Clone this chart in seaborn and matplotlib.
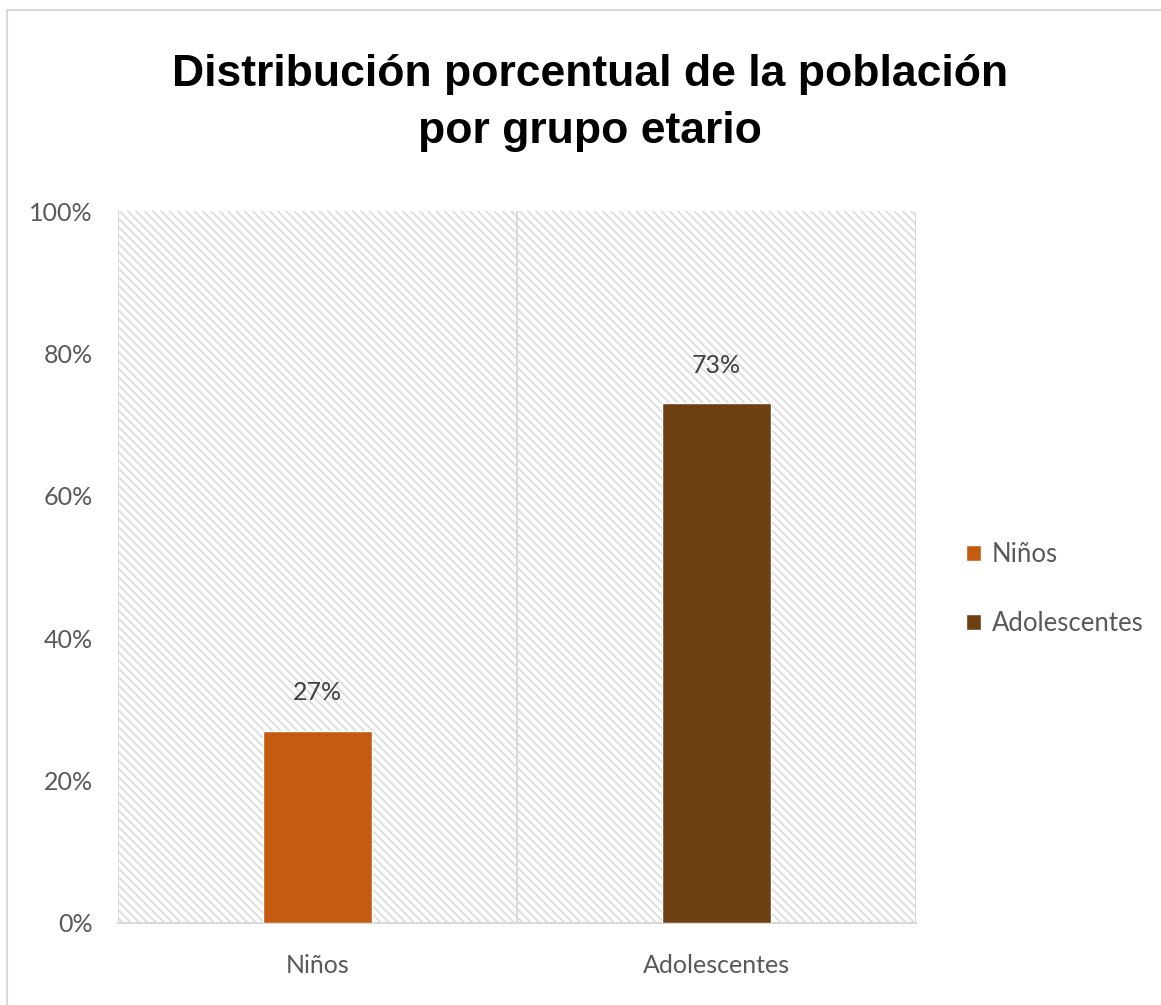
import matplotlib
matplotlib.use("Agg")
import matplotlib.pyplot as plt
from matplotlib.patches import Rectangle
import seaborn as sns
import pandas as pd

# Data
categories = ["Niños", "Adolescentes"]
percentages = [27, 73]
bar_colors = ["#C55A11", "#6E3F12"]
y_ticks = [0, 20, 40, 60, 80, 100]
title_text = "Distribución porcentual de la población\npor grupo etario"

sns.set_theme(style="white")
plt.rcParams["font.family"] = ["Lato", "DejaVu Sans"]
plt.rcParams["hatch.color"] = "#DCDCDC"
plt.rcParams["hatch.linewidth"] = 1.3

df = pd.DataFrame({"grupo": categories, "porcentaje": percentages})

fig = plt.figure(figsize=(11.61, 10.05), dpi=100)
ax = fig.add_axes([0.1016, 0.0816, 0.6874, 0.7084])

# Hatched plot-area background
ax.add_patch(Rectangle((0, 0), 1, 1, transform=ax.transAxes, facecolor="white",
                       edgecolor="#DCDCDC", hatch="\\\\\\\\", linewidth=0, zorder=0))

sns.barplot(data=df, x="grupo", y="porcentaje", hue="grupo",
            palette=bar_colors, width=0.273, legend=True, ax=ax,
            saturation=1, zorder=3)

ax.set_xlim(-0.5, 1.5)
ax.set_ylim(0, 100)
ax.set_yticks(y_ticks)
ax.set_yticklabels([f"{t}%" for t in y_ticks])
ax.set_xlabel("")
ax.set_ylabel("")
ax.tick_params(axis="both", length=0, labelsize=18, labelcolor="#595959")
ax.tick_params(axis="y", pad=18)
ax.tick_params(axis="x", pad=22)

# Category-boundary gridlines
for xb in [-0.5, 0.5, 1.5]:
    ax.axvline(xb, color="#D9D9D9", linewidth=1.3, zorder=1)

for side in ["top", "right", "left"]:
    ax.spines[side].set_visible(False)
ax.spines["bottom"].set_color("#D9D9D9")
ax.spines["bottom"].set_linewidth(1.5)

# Value labels
for container in ax.containers:
    ax.bar_label(container, labels=[f"{v:.0f}%" for v in container.datavalues],
                 padding=19, fontsize=18, color="#404040")

# Legend
handles, labels = ax.get_legend_handles_labels()
ax.legend(handles, labels, loc="center left", bbox_to_anchor=(0.812, 0.414),
          bbox_transform=fig.transFigure, frameon=False, fontsize=18.5,
          labelcolor="#595959", handlelength=0.6, handleheight=0.6,
          handletextpad=0.4, labelspacing=1.7)

# Title
fig.text(0.508, 0.898, title_text, ha="center", va="center",
         fontsize=32, fontweight="bold", color="black",
         family=["Liberation Sans", "DejaVu Sans"], linespacing=1.5)

# Chart-area border
fig.add_artist(Rectangle((7 / 1161, -0.1), 1.2, 1.1 - 10 / 1005,
                         transform=fig.transFigure, facecolor="none",
                         edgecolor="#D9D9D9", linewidth=1.5))

fig.savefig("out.png", dpi=100)
